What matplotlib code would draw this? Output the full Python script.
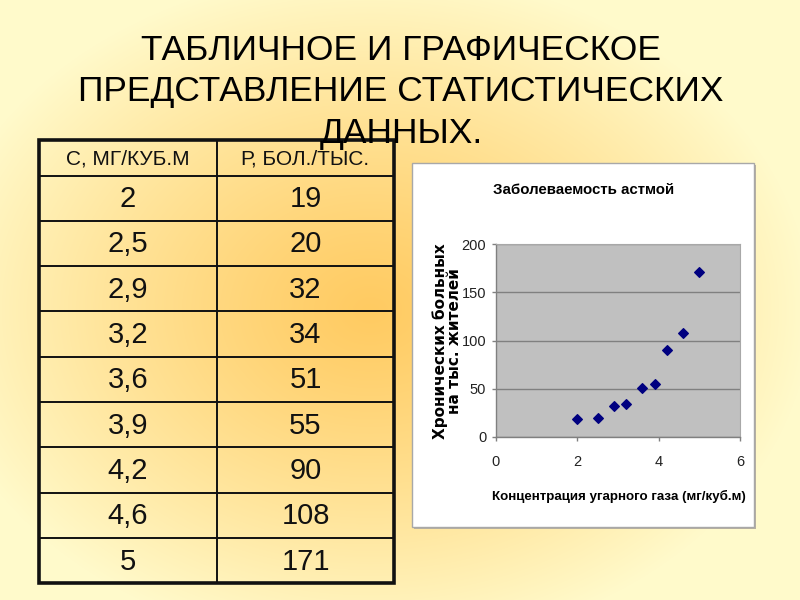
import numpy as np
import matplotlib
matplotlib.use("Agg")
import matplotlib.pyplot as plt
from matplotlib.patches import Rectangle
from matplotlib.colors import to_rgb

# ---- data ----
conc = [2, 2.5, 2.9, 3.2, 3.6, 3.9, 4.2, 4.6, 5]
patients = [19, 20, 32, 34, 51, 55, 90, 108, 171]
conc_labels = ["2", "2,5", "2,9", "3,2", "3,6", "3,9", "4,2", "4,6", "5"]
header = ["С, МГ/КУБ.М", "Р, БОЛ./ТЫС."]
title_lines = ["ТАБЛИЧНОЕ И ГРАФИЧЕСКОЕ", "ПРЕДСТАВЛЕНИЕ СТАТИСТИЧЕСКИХ", "ДАННЫХ."]
chart_title = "Заболеваемость астмой"
x_label = "Концентрация угарного газа (мг/куб.м)"
y_label = "Хронических больных\nна тыс. жителей"
x_ticks = [0, 2, 4, 6]
y_ticks = [0, 50, 100, 150, 200]

W, H = 800, 600
fig = plt.figure(figsize=(8, 6), dpi=100)

# ---- background (gradient slide) ----
bg = fig.add_axes([0, 0, 1, 1])
bg.set_xlim(0, W)
bg.set_ylim(H, 0)
bg.axis("off")
yy, xx = np.mgrid[0:H, 0:W]
t = np.sqrt(((xx - 370) / 440.0) ** 2 + ((yy - 310) / 340.0) ** 2)
t = np.clip(t, 0, 1) ** 1.2
c0 = np.array(to_rgb("#FFCB62"))
c1 = np.array(to_rgb("#FFFACB"))
img = c0[None, None, :] * (1 - t[..., None]) + c1[None, None, :] * t[..., None]
bg.imshow(img, extent=(0, W, H, 0), aspect="auto", zorder=0)

# ---- title ----
font = "Liberation Sans"
for i, line in enumerate(title_lines):
    bg.text(401, 50 + i * 41.5, line, ha="center", va="center",
            fontsize=25.5, family=font, color="black", zorder=5)

# ---- table ----
tx0, tx1, txm = 39, 394, 217
ty0, th_head, row_h = 140, 35.5, 45.3
n = len(conc)
ty1 = ty0 + th_head + row_h * n
for i in range(n):
    yl = ty0 + th_head + row_h * i
    bg.plot([tx0, tx1], [yl, yl], color="#111111", lw=1.4, zorder=3)
bg.plot([txm, txm], [ty0, ty1], color="#111111", lw=1.4, zorder=3)
bg.add_patch(Rectangle((tx0, ty0), tx1 - tx0, ty1 - ty0, fill=False,
                       edgecolor="#111111", lw=2.6, zorder=4))
for j, h in enumerate(header):
    cx = (tx0 + txm) / 2 if j == 0 else (txm + tx1) / 2
    bg.text(cx, ty0 + th_head / 2 + 1, h, ha="center", va="center",
            fontsize=15, family=font, color="#111111", zorder=5)
for i in range(n):
    cy = ty0 + th_head + row_h * (i + 0.5) + 1
    bg.text((tx0 + txm) / 2, cy, conc_labels[i], ha="center", va="center",
            fontsize=21, family=font, color="#111111", zorder=5)
    bg.text((txm + tx1) / 2, cy, str(patients[i]), ha="center", va="center",
            fontsize=21, family=font, color="#111111", zorder=5)

# ---- chart box ----
bx, by, bw, bh = 412, 163, 342, 364
bg.add_patch(Rectangle((bx + 2, by + 2), bw, bh, facecolor="#B8B0A0",
                       edgecolor="none", zorder=2))
bg.add_patch(Rectangle((bx, by), bw, bh, facecolor="white",
                       edgecolor="#A8A8A8", lw=1.0, zorder=2.5))

bg.text(584, 190, chart_title, ha="center", va="center", fontsize=10.8,
        family=font, fontweight="bold", color="black", zorder=5)
bg.text(619, 496, x_label, ha="center", va="center", fontsize=9.6,
        family=font, fontweight="bold", color="black", zorder=5)
bg.text(447, 341, y_label, ha="center", va="center", rotation=90,
        fontsize=11, family="DejaVu Sans", fontweight="bold",
        color="black", linespacing=0.92, zorder=5)

# ---- scatter plot ----
ax = fig.add_axes([496 / W, 1 - 437 / H, 244 / W, 193 / H])
ax.set_facecolor("#C0C0C0")
ax.scatter(conc, patients, marker="D", s=24, color="#000080", zorder=3,
           clip_on=False)
ax.set_xlim(0, 6)
ax.set_ylim(0, 200)
ax.set_xticks(x_ticks)
ax.set_yticks(y_ticks)
ax.yaxis.grid(True, color="#808080", lw=1.0)
ax.set_axisbelow(True)
for s in ["top", "right"]:
    ax.spines[s].set_color("#A8A8A8")
    ax.spines[s].set_linewidth(0.8)
for s in ["left", "bottom"]:
    ax.spines[s].set_color("#808080")
    ax.spines[s].set_linewidth(1.0)
ax.tick_params(axis="both", direction="out", length=3, width=1.0,
               color="#808080", labelcolor="#222222")
ax.tick_params(axis="x", pad=10)
ax.tick_params(axis="y", pad=4)
for lab in ax.get_xticklabels() + ax.get_yticklabels():
    lab.set_family(font)
    lab.set_fontsize(10.5)

fig.savefig("out.png", dpi=100)
